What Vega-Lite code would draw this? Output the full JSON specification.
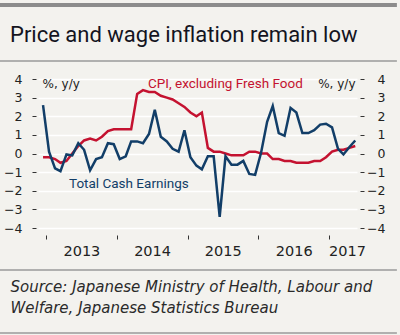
{
  "$schema": "https://vega.github.io/schema/vega-lite/v6.json",
  "width": 319,
  "height": 149,
  "autosize": {"type": "none"},
  "padding": {"left": 38, "top": 79, "right": 43, "bottom": 107},
  "background": "#f3f2ee",
  "config": {"view": {"stroke": null}, "font": "Roboto"},
  "title": {
    "text": "Price and wage inflation remain low",
    "anchor": "start",
    "frame": "group",
    "font": "Roboto",
    "fontSize": 22,
    "fontWeight": "normal",
    "color": "#14141e",
    "baseline": "alphabetic",
    "dx": -28,
    "offset": -61
  },
  "datasets": {
    "series": [
      {"date": "2012-12-15", "cpi": -0.2, "tce": 2.6},
      {"date": "2013-01-15", "cpi": -0.2, "tce": 0.1},
      {"date": "2013-02-15", "cpi": -0.3, "tce": -0.8},
      {"date": "2013-03-15", "cpi": -0.5, "tce": -0.95},
      {"date": "2013-04-15", "cpi": -0.4, "tce": -0.05},
      {"date": "2013-05-15", "cpi": 0.0, "tce": -0.1},
      {"date": "2013-06-15", "cpi": 0.4, "tce": 0.55},
      {"date": "2013-07-15", "cpi": 0.7, "tce": 0.2},
      {"date": "2013-08-15", "cpi": 0.8, "tce": -0.9},
      {"date": "2013-09-15", "cpi": 0.7, "tce": -0.3},
      {"date": "2013-10-15", "cpi": 0.9, "tce": -0.2},
      {"date": "2013-11-15", "cpi": 1.2, "tce": 0.55},
      {"date": "2013-12-15", "cpi": 1.3, "tce": 0.5},
      {"date": "2014-01-15", "cpi": 1.3, "tce": -0.3},
      {"date": "2014-02-15", "cpi": 1.3, "tce": -0.15},
      {"date": "2014-03-15", "cpi": 1.3, "tce": 0.65},
      {"date": "2014-04-15", "cpi": 3.2, "tce": 0.65},
      {"date": "2014-05-15", "cpi": 3.4, "tce": 0.55},
      {"date": "2014-06-15", "cpi": 3.3, "tce": 1.05},
      {"date": "2014-07-15", "cpi": 3.3, "tce": 2.35},
      {"date": "2014-08-15", "cpi": 3.1, "tce": 0.9},
      {"date": "2014-09-15", "cpi": 3.0, "tce": 0.65},
      {"date": "2014-10-15", "cpi": 2.9, "tce": 0.25},
      {"date": "2014-11-15", "cpi": 2.7, "tce": 0.1},
      {"date": "2014-12-15", "cpi": 2.5, "tce": 1.25},
      {"date": "2015-01-15", "cpi": 2.2, "tce": -0.2},
      {"date": "2015-02-15", "cpi": 2.0, "tce": -0.65},
      {"date": "2015-03-15", "cpi": 2.2, "tce": -0.85},
      {"date": "2015-04-15", "cpi": 0.3, "tce": -0.15},
      {"date": "2015-05-15", "cpi": 0.1, "tce": -0.15},
      {"date": "2015-06-15", "cpi": 0.1, "tce": -3.4},
      {"date": "2015-07-15", "cpi": 0.0, "tce": -0.15},
      {"date": "2015-08-15", "cpi": -0.1, "tce": -0.6},
      {"date": "2015-09-15", "cpi": -0.1, "tce": -0.6},
      {"date": "2015-10-15", "cpi": -0.1, "tce": -0.4},
      {"date": "2015-11-15", "cpi": 0.1, "tce": -1.1},
      {"date": "2015-12-15", "cpi": 0.1, "tce": -1.15},
      {"date": "2016-01-15", "cpi": 0.0, "tce": 0.05},
      {"date": "2016-02-15", "cpi": 0.0, "tce": 1.7},
      {"date": "2016-03-15", "cpi": -0.3, "tce": 2.55},
      {"date": "2016-04-15", "cpi": -0.3, "tce": 1.1},
      {"date": "2016-05-15", "cpi": -0.4, "tce": 0.95},
      {"date": "2016-06-15", "cpi": -0.4, "tce": 2.45},
      {"date": "2016-07-15", "cpi": -0.5, "tce": 2.2},
      {"date": "2016-08-15", "cpi": -0.5, "tce": 1.1},
      {"date": "2016-09-15", "cpi": -0.5, "tce": 1.1},
      {"date": "2016-10-15", "cpi": -0.4, "tce": 1.25},
      {"date": "2016-11-15", "cpi": -0.4, "tce": 1.55},
      {"date": "2016-12-15", "cpi": -0.2, "tce": 1.6},
      {"date": "2017-01-15", "cpi": 0.1, "tce": 1.4},
      {"date": "2017-02-15", "cpi": 0.2, "tce": 0.25},
      {"date": "2017-03-15", "cpi": 0.2, "tce": -0.05},
      {"date": "2017-04-15", "cpi": 0.3, "tce": 0.35},
      {"date": "2017-05-15", "cpi": 0.4, "tce": 0.7}
    ],
    "one": [{}]
  },
  "layer": [
    {
      "data": {"name": "one"},
      "mark": {"type": "rule", "color": "#8c8c8c", "strokeWidth": 4},
      "encoding": {
        "x": {"datum": {"year": 2012, "month": 1, "date": 1, "utc": true}, "type": "temporal", "axis": null},
        "x2": {"datum": {"year": 2017, "month": 12, "date": 16, "utc": true}},
        "y": {"datum": 7.97, "type": "quantitative", "axis": null}
      }
    },
    {
      "data": {"name": "one"},
      "mark": {"type": "rule", "color": "#9a9a9a", "strokeWidth": 1.5},
      "encoding": {
        "x": {"datum": {"year": 2012, "month": 1, "date": 1, "utc": true}, "type": "temporal", "axis": null},
        "x2": {"datum": {"year": 2017, "month": 12, "date": 16, "utc": true}},
        "y": {"datum": 4.97, "type": "quantitative", "axis": null}
      }
    },
    {
      "data": {"name": "one"},
      "mark": {"type": "rule", "color": "#9a9a9a", "strokeWidth": 1.5},
      "encoding": {
        "x": {"datum": {"year": 2012, "month": 1, "date": 1, "utc": true}, "type": "temporal", "axis": null},
        "x2": {"datum": {"year": 2017, "month": 12, "date": 16, "utc": true}},
        "y": {"datum": -6.25, "type": "quantitative", "axis": null}
      }
    },
    {
      "data": {"name": "one"},
      "mark": {"type": "rule", "color": "#9a9a9a", "strokeWidth": 1.5},
      "encoding": {
        "x": {"datum": {"year": 2012, "month": 1, "date": 1, "utc": true}, "type": "temporal", "axis": null},
        "x2": {"datum": {"year": 2017, "month": 12, "date": 16, "utc": true}},
        "y": {"datum": -9.64, "type": "quantitative", "axis": null}
      }
    },
    {
      "data": {"name": "series"},
      "mark": {"type": "line", "color": "#c41230", "strokeWidth": 2.5},
      "encoding": {
        "x": {
          "field": "date",
          "type": "temporal",
          "scale": {
            "type": "utc",
            "domain": [
              {"year": 2012, "month": 11, "date": 19, "utc": true},
              {"year": 2017, "month": 5, "date": 24, "utc": true}
            ]
          },
          "axis": {
            "orient": "bottom",
            "values": [
              {"year": 2013, "month": 1, "date": 1, "utc": true},
              {"year": 2014, "month": 1, "date": 1, "utc": true},
              {"year": 2015, "month": 1, "date": 1, "utc": true},
              {"year": 2016, "month": 1, "date": 1, "utc": true},
              {"year": 2017, "month": 1, "date": 1, "utc": true}
            ],
            "labels": false,
            "grid": false,
            "domain": false,
            "offset": 7,
            "tickSize": 4,
            "tickColor": "#333333",
            "tickWidth": 1,
            "title": null
          }
        },
        "y": {
          "field": "cpi",
          "type": "quantitative",
          "scale": {"domain": [-4, 4]},
          "axis": {
            "orient": "left",
            "values": [-4, -3, -2, -1, 0, 1, 2, 3, 4],
            "grid": true,
            "gridColor": "#ffffff",
            "gridWidth": 1.5,
            "domain": false,
            "offset": 2,
            "tickSize": 4,
            "tickColor": "#333333",
            "labelFont": "DejaVu Sans",
            "labelFontSize": 12.5,
            "labelColor": "#222222",
            "labelPadding": 10,
            "labelOverlap": false,
            "title": "%, y/y",
            "titleAngle": 0,
            "titleFont": "DejaVu Sans",
            "titleFontSize": 12,
            "titleFontWeight": "normal",
            "titleColor": "#222222",
            "titleAlign": "left",
            "titleBaseline": "middle",
            "titleX": 6,
            "titleY": 4
          }
        }
      }
    },
    {
      "data": {"name": "one"},
      "mark": {"type": "text", "color": "#c41230", "fontSize": 13.5, "font": "Roboto", "align": "left", "baseline": "middle"},
      "encoding": {
        "x": {"datum": {"year": 2014, "month": 6, "date": 10, "utc": true}, "type": "temporal", "axis": null},
        "y": {"datum": 3.72, "type": "quantitative", "axis": null},
        "text": {"value": "CPI, excluding Fresh Food"}
      }
    },
    {
      "data": {"name": "series"},
      "mark": {"type": "line", "color": "#123e68", "strokeWidth": 2.5},
      "encoding": {
        "x": {
          "field": "date",
          "type": "temporal",
          "axis": {
            "orient": "bottom",
            "values": [
              {"year": 2013, "month": 7, "date": 1, "utc": true},
              {"year": 2014, "month": 7, "date": 1, "utc": true},
              {"year": 2015, "month": 7, "date": 1, "utc": true},
              {"year": 2016, "month": 7, "date": 1, "utc": true},
              {"year": 2017, "month": 4, "date": 2, "utc": true}
            ],
            "format": "%Y",
            "ticks": false,
            "tickSize": 0,
            "grid": false,
            "domain": false,
            "offset": 7,
            "labelFont": "DejaVu Sans",
            "labelFontSize": 14.5,
            "labelColor": "#222222",
            "labelPadding": 9,
            "labelFlush": false,
            "labelOverlap": false,
            "title": ["Source: Japanese Ministry of Health, Labour and", "Welfare, Japanese Statistics Bureau"],
            "titleFont": "DejaVu Sans",
            "titleFontStyle": "italic",
            "titleFontWeight": "normal",
            "titleFontSize": 15,
            "titleColor": "#2a2a2a",
            "titleAnchor": "start",
            "titleAlign": "left",
            "titleBaseline": "top",
            "titleLineHeight": 21.5,
            "titleX": -28,
            "titleY": 44
          }
        },
        "y": {
          "field": "tce",
          "type": "quantitative",
          "axis": {
            "orient": "right",
            "values": [-4, -3, -2, -1, 0, 1, 2, 3, 4],
            "grid": false,
            "domain": false,
            "offset": 3,
            "tickSize": 4,
            "tickColor": "#333333",
            "labelFont": "DejaVu Sans",
            "labelFontSize": 12.5,
            "labelColor": "#222222",
            "labelAlign": "right",
            "labelPadding": 21,
            "labelOverlap": false,
            "title": "%, y/y",
            "titleAngle": 0,
            "titleFont": "DejaVu Sans",
            "titleFontSize": 12,
            "titleFontWeight": "normal",
            "titleColor": "#222222",
            "titleAlign": "right",
            "titleBaseline": "middle",
            "titleX": -5,
            "titleY": 4
          }
        }
      }
    },
    {
      "data": {"name": "one"},
      "mark": {"type": "text", "color": "#123e68", "fontSize": 13.5, "font": "Roboto", "align": "left", "baseline": "middle"},
      "encoding": {
        "x": {"datum": {"year": 2013, "month": 4, "date": 28, "utc": true}, "type": "temporal", "axis": null},
        "y": {"datum": -1.65, "type": "quantitative", "axis": null},
        "text": {"value": "Total Cash Earnings"}
      }
    }
  ],
  "resolve": {"axis": {"x": "independent", "y": "independent"}}
}
